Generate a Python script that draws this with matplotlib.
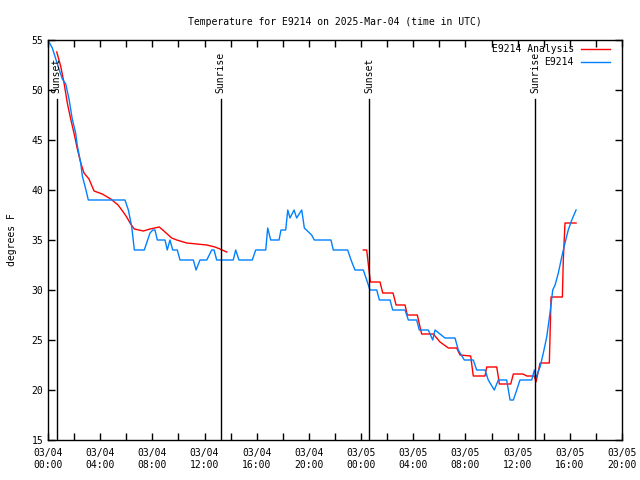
import numpy as np
import pandas as pd
import matplotlib
matplotlib.use("Agg")
import matplotlib.pyplot as plt
import matplotlib.dates as mdates

plt.rcParams['font.family'] = 'DejaVu Sans Mono'

start = pd.Timestamp("2025-03-04 00:00")

# observed temperatures: hours since 03/04 00:00 UTC, degrees F
obs_hours = [0.0, 0.33, 0.84, 1.10, 1.36, 1.61, 1.86, 2.12, 2.25, 2.51, 2.63, 2.89, 3.09,
             5.90, 6.16, 6.42, 6.62, 7.38, 7.82, 8.03, 8.20, 8.38, 8.97, 9.14, 9.35, 9.56,
             9.91, 10.12, 11.14, 11.35, 11.65, 12.17, 12.55, 12.73, 12.93, 14.20, 14.39,
             14.64, 15.66, 15.92, 16.69, 16.84, 17.07, 17.71, 17.86, 18.22, 18.38, 18.55,
             18.86, 19.06, 19.45, 19.65, 20.21, 20.41, 21.69, 21.87, 22.97, 23.23, 23.53,
             24.17, 24.43, 24.68, 25.20, 25.40, 26.22, 26.42, 27.37, 27.62, 28.26, 28.46,
             29.15, 29.49, 29.67, 30.43, 31.20, 31.45, 31.91, 32.60, 32.86, 33.50, 33.75,
             34.21, 34.52, 35.16, 35.42, 35.67, 35.93, 36.18, 37.08, 37.28, 37.39, 37.72,
             37.97, 38.23, 38.48, 38.69, 38.87, 39.12, 39.38, 39.63, 39.88, 40.15, 40.48]
obs_temp = [55.0, 54.2, 52.1, 51.1, 50.6, 49.1, 47.1, 45.7, 44.4, 42.7, 41.4, 40.1, 39.0,
            39.0, 38.0, 36.3, 34.0, 34.0, 35.7, 36.0, 36.0, 35.0, 35.0, 34.0, 35.0, 34.0,
            34.0, 33.0, 33.0, 32.0, 33.0, 33.0, 34.0, 34.0, 33.0, 33.0, 34.0,
            33.0, 33.0, 34.0, 34.0, 36.2, 35.0, 35.0, 36.0, 36.0, 38.0, 37.2,
            38.0, 37.2, 38.0, 36.2, 35.5, 35.0, 35.0, 34.0, 34.0, 33.0, 32.0,
            32.0, 31.0, 30.0, 30.0, 29.0, 29.0, 28.0, 28.0, 27.0, 27.0, 26.0,
            26.0, 25.0, 26.0, 25.2, 25.2, 24.0, 23.0, 23.0, 22.0, 22.0, 21.0,
            20.0, 21.0, 21.0, 19.0, 19.0, 20.0, 21.0, 21.0, 22.0, 21.2, 22.3,
            23.7, 25.3, 27.7, 30.0, 30.5, 31.7, 33.3, 34.7, 36.0, 37.0, 38.0]

# analysis temperatures (gap between the two runs)
ana_hours = [0.67, 0.97, 1.23, 1.48, 1.74, 1.99, 2.25, 2.51, 2.76, 3.14, 3.53, 4.16, 4.81,
             5.37, 5.77, 6.03, 6.29, 6.61, 7.31, 7.82, 8.53, 8.97, 9.48, 9.87, 10.63,
             11.40, 12.17, 12.80, 13.18, 13.70, 18.0,
             24.17, 24.43, 24.71, 25.45, 25.66, 26.45, 26.68, 27.37, 27.54, 28.31, 28.64,
             29.54, 30.05, 30.69, 31.33, 31.58, 32.40, 32.60, 33.50, 33.63, 34.40, 34.60,
             35.47, 35.67, 36.41, 36.70, 37.28, 37.41, 37.72, 38.43, 38.56, 38.74, 39.43,
             39.50, 39.63, 40.48]
ana_temp = [53.8, 52.4, 50.7, 48.7, 47.1, 45.7, 44.1, 42.7, 41.7, 41.1, 39.9, 39.6, 39.1,
            38.5, 37.8, 37.3, 36.7, 36.1, 35.9, 36.1, 36.3, 35.8, 35.2, 35.0, 34.7,
            34.6, 34.5, 34.3, 34.1, 33.8, np.nan,
            34.0, 34.0, 30.8, 30.8, 29.7, 29.7, 28.5, 28.5, 27.5, 27.5, 25.6,
            25.6, 24.8, 24.2, 24.2, 23.5, 23.4, 21.4, 21.4, 22.3, 22.3, 20.6,
            20.6, 21.6, 21.6, 21.4, 21.4, 20.8, 22.7, 22.7, 29.3, 29.3, 29.3,
            33.0, 36.7, 36.7]

sun_hours = [0.66, 13.24, 24.63, 37.36]
sun_labels = ["Sunset", "Sunrise", "Sunset", "Sunrise"]

obs_t = start + pd.to_timedelta(obs_hours, unit="h")
ana_t = start + pd.to_timedelta(ana_hours, unit="h")
sun_t = start + pd.to_timedelta(sun_hours, unit="h")

fig = plt.figure(figsize=(6.4, 4.8), dpi=100)
ax = fig.add_axes([48 / 640, 40 / 480, 574 / 640, 400 / 480])

red = "#ff0000"
blue = "#0080ff"
ax.plot(ana_t, ana_temp, color=red, lw=1)
ax.plot(obs_t, obs_temp, color=blue, lw=1)

for t, lab in zip(sun_t, sun_labels):
    ax.plot([t, t], [15, 49.1], color="black", lw=1)
    ax.text(t, 49.7, lab, rotation=90, ha="center", va="bottom", fontsize=7)

ax.set_xlim(start, start + pd.Timedelta(hours=44))
ax.set_ylim(15, 55)
ax.set_yticks(range(15, 56, 5))
ax.xaxis.set_major_locator(mdates.HourLocator(byhour=range(0, 24, 4)))
ax.xaxis.set_minor_locator(mdates.HourLocator(byhour=range(2, 24, 4)))
ax.xaxis.set_major_formatter(mdates.DateFormatter("%m/%d\n%H:%M"))
ax.tick_params(which="both", direction="in", top=True, right=True, length=5,
               width=1, labelsize=7)
ax.tick_params(axis="x", pad=6)
for s in ax.spines.values():
    s.set_linewidth(1)

ax.set_ylabel("degrees F", fontsize=7)
ax.yaxis.set_label_coords(-0.054, 0.5)
ax.set_title("Temperature for E9214 on 2025-Mar-04 (time in UTC)", fontsize=7, pad=11)

# key in the upper right corner
ax.text(0.916, 0.9775, "E9214 Analysis", transform=ax.transAxes, ha="right",
        va="center", fontsize=7)
ax.plot([0.9286, 0.979], [0.9775, 0.9775], color=red, lw=1, transform=ax.transAxes)
ax.text(0.916, 0.945, "E9214", transform=ax.transAxes, ha="right", va="center",
        fontsize=7)
ax.plot([0.9286, 0.979], [0.945, 0.945], color=blue, lw=1, transform=ax.transAxes)

fig.savefig("out.png", dpi=100)
